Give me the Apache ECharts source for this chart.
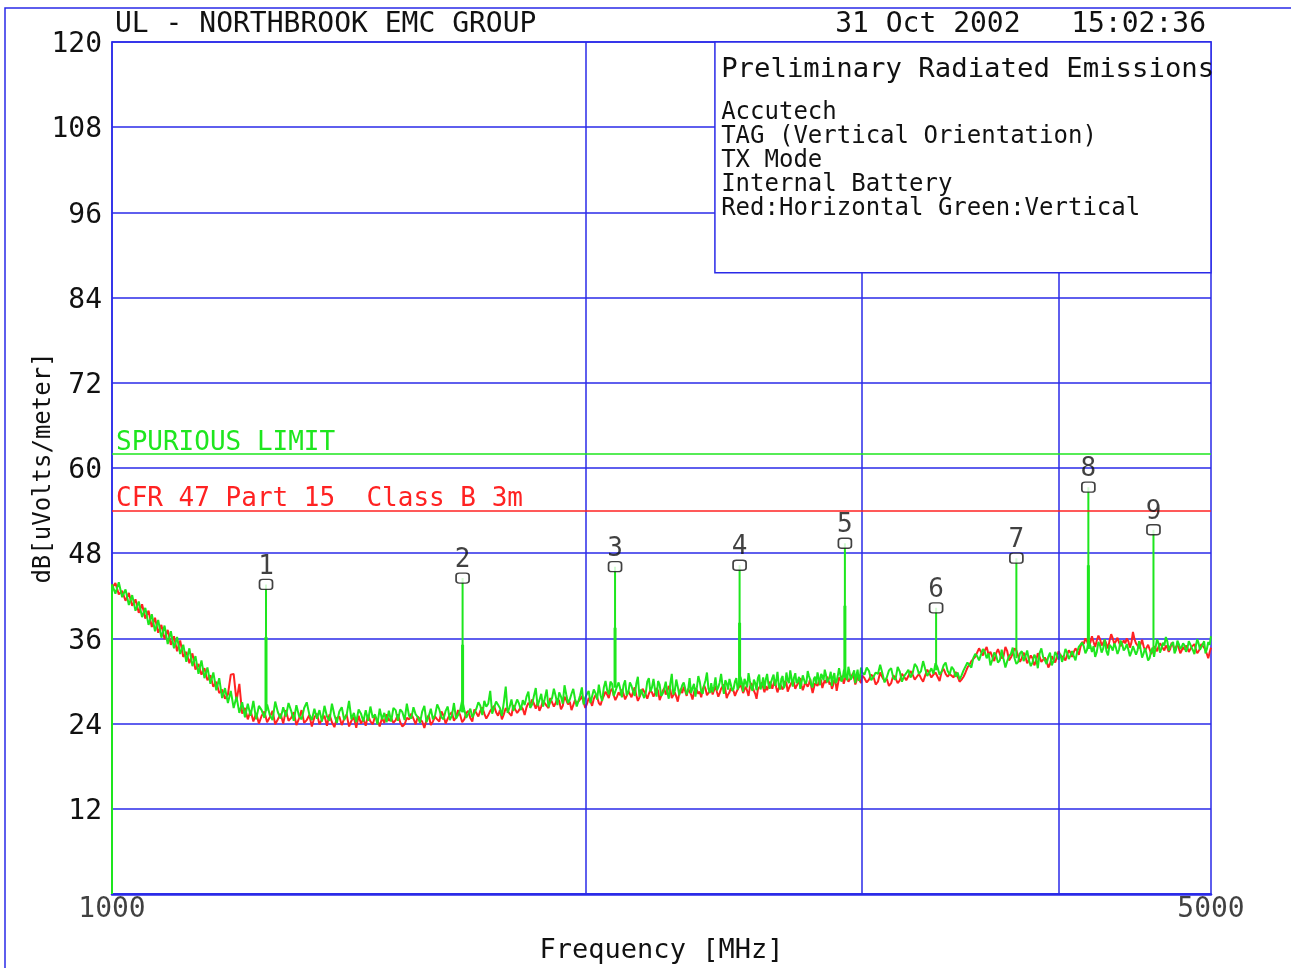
<!DOCTYPE html>
<html>
<head>
<meta charset="utf-8">
<title>Preliminary Radiated Emissions</title>
<script src="https://cdn.jsdelivr.net/npm/echarts/dist/echarts.min.js"></script>
<style>
  html, body { margin: 0; padding: 0; background: #fff; }
  #chart { width: 1291px; height: 968px; }
</style>
</head>
<body>
<div id="chart"></div>
<script>
// ---- Data -------------------------------------------------------------
// Sweep frequencies [MHz]
const freqLow = [
  1000,1005,1010,1015,1020,1025,1030,1035,1040,1045,
  1050,1055,1060,1065,1070,1075,1080,1085,1090,1095,
  1100,1105,1110,1115,1120,1125,1130,1135,1140,1145,
  1150,1155,1160,1165,1170,1175,1180,1185,1190,1195,
  1200,1205,1210,1215,1220,1225,1230,1235,1240,1245,
  1250,1255,1260,1265,1270,1275,1280,1285,1290,1295,
  1300,1305,1310,1315,1320,1325,1330,1335,1340,1345,
  1350,1355,1360,1365,1370,1375,1380,1385,1390,1395,
  1400,1405,1410,1415,1420,1425,1430,1435,1440,1445,
  1450,1455,1460,1465,1470,1475,1480,1485,1490,1495,
  1500
];
const freqMid = [
  1505,1510,1515,1520,1525,1530,1535,1540,1545,1550,1555,1560,1565,1570,1575,1580,1585,1590,1595,1600,
  1605,1610,1615,1620,1625,1630,1635,1640,1645,1650,1655,1660,1665,1670,1675,1680,1685,1690,1695,1700,
  1705,1710,1715,1720,1725,1730,1735,1740,1745,1750,1755,1760,1765,1770,1775,1780,1785,1790,1795,1800,
  1805,1810,1815,1820,1825,1830,1835,1840,1845,1850,1855,1860,1865,1870,1875,1880,1885,1890,1895,1900,
  1905,1910,1915,1920,1925,1930,1935,1940,1945,1950,1955,1960,1965,1970,1975,1980,1985,1990,1995,2000,
  2005,2010,2015,2020,2025,2030,2035,2040,2045,2050,2055,2060,2065,2070,2075,2080,2085,2090,2095,2100,
  2105,2110,2115,2120,2125,2130,2135,2140,2145,2150,2155,2160,2165,2170,2175,2180,2185,2190,2195,2200,
  2205,2210,2215,2220,2225,2230,2235,2240,2245,2250,2255,2260,2265,2270,2275,2280,2285,2290,2295,2300,
  2305,2310,2315,2320,2325,2330,2335,2340,2345,2350,2355,2360,2365,2370,2375,2380,2385,2390,2395,2400,
  2405,2410,2415,2420,2425,2430,2435,2440,2445,2450,2455,2460,2465,2470,2475,2480,2485,2490,2495,2500,
  2505,2510,2515,2520,2525,2530,2535,2540,2545,2550,2555,2560,2565,2570,2575,2580,2585,2590,2595,2600,
  2605,2610,2615,2620,2625,2630,2635,2640,2645,2650,2655,2660,2665,2670,2675,2680,2685,2690,2695,2700,
  2705,2710,2715,2720,2725,2730,2735,2740,2745,2750,2755,2760,2765,2770,2775,2780,2785,2790,2795,2800,
  2805,2810,2815,2820,2825,2830,2835,2840,2845,2850,2855,2860,2865,2870,2875,2880,2885,2890,2895,2900,
  2905,2910,2915,2920,2925,2930,2935,2940,2945,2950,2955,2960,2965,2970,2975,2980,2985,2990,2995,3000
];
const freqHigh = [
  3010,3020,3030,3040,3050,3060,3070,3080,3090,3100,3110,3120,3130,3140,3150,3160,3170,3180,3190,3200,
  3210,3220,3230,3240,3250,3260,3270,3280,3290,3300,3310,3320,3330,3340,3350,3360,3370,3380,3390,3400,
  3410,3420,3430,3440,3450,3460,3470,3480,3490,3500,3510,3520,3530,3540,3550,3560,3570,3580,3590,3600,
  3610,3620,3630,3640,3650,3660,3670,3680,3690,3700,3710,3720,3730,3740,3750,3760,3770,3780,3790,3800,
  3810,3820,3830,3840,3850,3860,3870,3880,3890,3900,3910,3920,3930,3940,3950,3960,3970,3980,3990,4000,
  4010,4020,4030,4040,4050,4060,4070,4080,4090,4100,4110,4120,4130,4140,4150,4160,4170,4180,4190,4200,
  4210,4220,4230,4240,4250,4260,4270,4280,4290,4300,4310,4320,4330,4340,4350,4360,4370,4380,4390,4400,
  4410,4420,4430,4440,4450,4460,4470,4480,4490,4500,4510,4520,4530,4540,4550,4560,4570,4580,4590,4600,
  4610,4620,4630,4640,4650,4660,4670,4680,4690,4700,4710,4720,4730,4740,4750,4760,4770,4780,4790,4800,
  4810,4820,4830,4840,4850,4860,4870,4880,4890,4900,4910,4920,4930,4940,4950,4960,4970,4980,4990,5000
];

// Vertical antenna polarization [dBuV/m] (green)
const verticalLow = [
  43.6,42.3,43.9,41.8,42.9,40.7,42.1,39.9,41.2,39.0,
  40.3,37.9,39.4,37.0,38.6,36.1,37.8,35.2,37.0,34.6,
  36.2,33.8,35.1,32.7,34.6,32.1,33.5,31.0,32.9,30.4,
  31.9,29.6,31.2,28.7,30.4,27.6,29.0,26.9,28.6,26.2,
  27.8,25.5,27.0,24.9,26.8,25.1,27.2,24.6,26.5,25.9,
  24.8,26.7,25.2,24.5,27.1,25.6,24.7,26.3,25.0,26.9,
  25.8,24.4,26.6,25.1,24.6,26.2,27.0,25.3,24.5,26.1,
  24.7,25.9,24.3,26.5,25.0,24.4,26.8,25.2,24.1,25.7,
  26.3,24.5,25.2,27.2,24.6,25.5,24.2,26.0,25.4,24.3,
  25.9,24.4,26.4,24.8,25.3,23.9,26.1,24.6,25.5,24.2,
  25.8
];
const verticalMid = [
  24.3,26.2,25.9,24.4,26.0,25.6,24.5,26.8,25.1,24.7,26.3,25.3,24.9,24.1,25.7,26.5,24.2,25.0,26.1,24.6,
  25.2,26.7,26.0,24.9,24.6,25.8,26.4,24.5,25.1,26.9,24.7,25.2,25.9,27.3,26.0,24.8,25.4,26.1,24.9,25.5,
  26.1,27.0,26.5,25.2,27.2,26.4,26.8,28.6,25.4,25.6,27.1,26.9,26.2,25.1,27.0,29.2,25.5,26.3,27.4,25.8,
  25.7,27.4,26.8,25.9,27.3,26.6,27.8,28.5,26.2,26.7,27.9,29.0,26.5,27.3,28.2,26.4,27.6,28.8,26.3,27.1,
  27.6,28.9,27.9,26.6,28.4,27.8,26.8,29.4,28.1,26.9,27.4,28.2,28.9,27.5,26.4,26.5,28.0,29.1,26.7,27.7,
  28.2,28.6,26.9,27.0,28.8,28.3,27.4,29.5,28.0,27.2,29.1,30.0,28.7,28.1,29.9,29.6,27.9,28.0,29.2,29.8,
  28.9,27.7,29.4,30.1,28.0,28.4,29.8,29.3,28.5,27.9,29.6,30.6,27.8,28.8,29.0,27.6,28.3,29.9,30.4,28.5,
  29.1,30.3,28.7,27.8,30.0,29.5,27.9,28.2,28.9,29.9,28.4,27.5,29.6,31.0,28.1,28.6,30.2,29.2,28.0,27.9,
  29.4,29.8,30.0,28.1,28.7,30.4,28.3,29.0,29.6,27.8,29.1,30.7,29.9,28.5,28.2,29.4,30.1,31.2,29.0,28.3,
  29.7,28.4,29.2,30.5,28.7,29.1,29.8,31.0,29.4,28.2,30.1,29.7,28.8,30.3,29.5,28.6,28.9,29.9,30.4,28.8,
  29.5,30.6,29.9,28.5,30.3,29.8,29.1,31.1,30.0,29.0,28.6,30.2,29.7,28.7,30.4,30.9,28.8,29.4,30.5,28.9,
  30.2,31.0,29.6,28.9,29.8,30.4,30.9,29.3,30.0,31.3,29.4,28.8,30.3,30.7,29.0,29.5,31.2,30.1,29.7,31.5,
  30.4,29.2,30.5,31.1,29.7,30.0,30.6,28.9,29.8,30.8,31.0,29.6,29.9,31.4,30.7,30.2,29.4,29.1,30.3,30.6,
  29.6,31.2,30.4,29.4,31.0,30.7,30.1,31.6,30.9,29.8,29.9,30.5,31.3,29.3,30.6,31.1,29.7,30.0,30.8,31.8,
  31.0,29.9,30.3,31.4,31.7,30.6,30.1,32.0,31.2,30.2,30.5,31.0,31.5,29.7,30.8,31.6,30.0,30.4,31.9,31.2
];
const verticalHigh = [
  30.9,31.9,31.4,30.1,30.6,31.2,31.0,32.3,31.1,29.8,30.5,31.5,31.8,30.4,30.2,32.0,31.3,29.9,30.7,31.1,
  31.6,30.5,31.1,32.4,32.0,31.0,31.4,32.8,31.7,30.7,31.2,31.8,31.0,32.5,31.9,30.9,31.3,32.2,32.6,31.4,
  30.9,32.0,31.6,30.6,31.2,30.2,30.8,31.5,31.7,32.6,32.4,31.9,33.2,33.8,33.5,32.9,33.0,34.5,34.1,33.2,
  33.9,32.2,33.0,34.0,33.6,32.6,32.9,34.4,33.1,31.9,32.8,33.5,33.8,34.7,33.2,32.4,32.7,33.9,34.2,32.8,
  33.5,34.3,32.9,32.1,32.6,33.7,33.2,31.8,33.9,34.6,33.4,32.9,32.4,33.4,34.0,32.2,32.8,34.1,33.6,33.0,
  33.8,32.7,33.4,34.5,34.0,33.1,33.6,34.2,33.5,32.9,34.1,34.8,34.6,35.4,34.9,33.9,34.4,35.6,35.0,34.1,
  34.9,33.4,34.1,35.5,35.0,34.0,34.6,35.9,34.2,33.6,35.1,34.8,34.3,35.3,34.7,33.8,34.4,35.7,35.2,34.3,
  34.6,35.2,34.4,33.5,34.1,34.9,35.0,33.7,34.3,35.6,34.5,33.3,33.9,34.6,33.8,32.9,33.2,34.2,34.7,33.4,
  34.7,35.9,35.3,34.0,34.6,35.4,35.0,36.2,35.6,34.3,34.9,35.1,35.5,33.9,34.4,35.7,35.2,34.5,34.8,35.3,
  35.0,34.1,34.6,35.6,35.2,34.7,34.3,33.8,34.9,35.9,35.3,34.4,34.8,35.2,35.6,33.9,34.5,35.5,35.1,36.3
];

// Horizontal antenna polarization [dBuV/m] (red)
const horizontalLow = [
  43.1,43.8,42.2,42.7,41.3,42.4,40.6,41.5,39.6,40.8,
  38.8,39.9,37.6,38.9,36.8,37.9,35.9,37.2,35.1,36.3,
  34.2,35.7,33.4,34.1,32.5,33.9,31.6,32.4,30.9,31.8,
  30.1,30.8,29.2,29.9,28.3,28.8,27.5,28.1,30.9,31.0,
  27.2,29.6,25.4,26.2,24.6,25.8,24.3,25.5,24.0,25.1,
  25.7,24.2,24.9,25.8,23.9,24.6,25.4,24.0,25.9,24.4,
  24.8,25.6,23.8,24.7,25.9,24.1,24.5,25.2,23.6,24.9,
  25.4,23.9,24.6,25.1,23.7,25.3,24.2,23.5,24.8,25.0,
  23.8,24.7,25.3,23.6,24.4,24.9,23.4,25.1,24.0,24.6,
  23.7,25.2,24.3,23.9,25.0,24.5,23.6,24.8,24.1,25.3,
  24.4
];
const horizontalMid = [
  24.8,24.1,24.5,25.3,24.2,23.6,23.9,24.8,24.6,25.4,24.7,23.9,25.0,24.6,24.3,23.4,24.5,25.2,23.8,24.3,
  25.0,24.6,24.3,25.7,25.1,24.0,24.7,25.3,25.6,24.4,24.9,25.9,25.2,24.2,24.6,25.5,25.8,24.8,24.3,26.0,
  25.5,25.0,25.8,26.3,25.4,24.7,25.2,25.8,25.9,26.5,25.6,25.1,25.9,24.6,25.3,26.2,26.0,25.4,25.1,26.6,
  26.0,25.5,25.9,26.4,26.1,25.2,26.3,26.9,26.6,27.4,26.8,26.1,27.0,25.8,26.4,27.2,27.1,26.5,26.2,27.6,
  27.0,26.4,26.9,27.5,27.2,26.0,26.5,27.8,27.3,26.7,27.1,25.9,26.6,27.3,26.8,26.6,27.4,27.9,27.0,26.2,
  26.8,27.6,27.2,26.5,27.5,28.0,27.7,26.9,26.6,27.4,27.9,28.5,28.1,27.6,28.6,28.9,28.0,27.3,27.8,28.4,
  28.0,28.8,28.2,27.4,27.9,28.6,28.4,27.7,28.5,29.1,28.0,27.2,27.7,28.3,28.9,29.0,28.1,27.5,28.2,28.7,
  28.4,27.8,28.3,29.0,28.6,27.3,27.9,28.6,29.0,28.1,28.5,29.3,28.8,27.6,28.0,28.4,27.8,27.1,28.3,28.9,
  28.3,29.2,28.6,27.9,28.9,28.5,28.1,27.4,28.4,29.0,28.7,28.2,28.5,27.7,28.8,29.4,28.9,28.0,28.2,28.6,
  29.0,28.1,28.7,29.3,28.5,27.8,28.3,28.9,28.8,29.5,28.9,27.6,28.1,28.4,29.0,29.1,28.6,27.9,28.4,28.8,
  28.9,29.5,29.0,28.3,28.8,29.2,28.6,27.9,29.1,29.7,29.3,28.6,28.2,27.5,28.8,29.0,29.4,29.8,29.1,28.4,
  29.3,28.7,29.2,29.9,29.5,28.9,29.6,30.2,29.1,28.4,29.0,29.6,29.4,28.8,29.3,30.0,29.7,28.5,29.0,29.4,
  29.5,30.1,29.7,28.9,29.3,29.6,29.9,30.4,29.4,28.7,29.2,29.9,29.8,29.2,29.6,30.3,29.1,28.3,29.0,29.7,
  29.9,29.3,29.8,30.4,30.0,29.0,29.6,30.1,29.7,30.6,30.2,29.5,29.8,28.9,29.4,30.2,29.9,28.6,29.5,30.5,
  30.1,30.7,30.4,29.6,30.2,30.9,30.5,29.9,29.8,30.4,30.6,31.1,30.3,29.5,30.0,30.6,30.9,30.0,29.7,30.8
];
const horizontalHigh = [
  30.4,29.8,30.2,30.9,30.6,29.5,29.9,31.2,30.5,30.0,30.3,29.3,29.7,30.8,30.4,29.7,30.1,31.0,30.6,30.1,
  30.7,31.4,30.9,30.2,30.6,31.0,30.4,29.9,30.8,31.6,31.1,30.5,30.9,31.2,30.6,30.0,31.3,31.7,31.0,30.6,
  31.0,30.8,30.5,31.3,30.6,29.9,30.2,30.6,31.2,31.9,32.3,32.8,33.0,33.4,34.0,34.6,34.1,33.6,34.3,34.8,
  33.7,34.1,33.4,32.8,33.9,34.5,33.8,33.2,33.5,34.8,34.2,32.9,33.3,33.9,34.6,34.3,33.5,32.7,33.2,34.0,
  33.4,32.5,33.0,33.6,33.2,32.2,32.8,33.9,33.4,32.7,32.5,33.3,32.9,31.9,32.4,33.5,33.0,32.6,33.4,34.2,
  33.6,33.8,33.3,32.9,33.7,34.3,34.0,33.4,34.1,34.6,34.2,33.7,34.8,35.5,35.2,36.0,35.6,34.9,35.4,36.3,
  35.5,34.8,35.7,36.4,35.9,35.0,35.4,35.8,35.2,34.6,35.7,36.6,36.0,35.2,35.6,36.1,35.4,34.9,35.3,35.7,
  35.3,36.0,35.6,34.7,35.4,36.9,35.9,35.3,35.0,34.6,35.2,35.8,34.9,34.3,34.7,35.1,34.5,33.8,34.2,34.9,
  34.6,34.2,34.8,35.3,35.0,34.6,34.3,35.0,34.7,34.1,34.5,35.4,35.0,34.4,34.8,35.1,34.6,33.9,34.3,34.8,
  34.4,35.0,34.7,34.1,34.3,34.8,34.9,35.2,34.5,33.9,34.2,34.6,35.2,35.0,34.7,34.3,33.8,33.2,34.0,34.7
];

// Harmonic emissions picked by the markers
const markerNames      = ['1','2','3','4','5','6','7','8','9'];
const harmonicFreqs    = [1253, 1671, 2089, 2507, 2925, 3343, 3760, 4178, 4596];
const harmonicPeaks    = [43.6, 44.5, 46.1, 46.3, 49.4, 40.3, 47.3, 57.3, 51.3];
const harmonicFloors   = [25.8, 25.6, 29.1, 29.4, 30.5, 31.5, 33.2, 34.5, 34.0];
const nearCarrierLevel = [36.2, 35.1, 37.5, 38.2, 40.6, null, null, 46.3, null];

// First sweep point of the vertical trace: [level at start, level after settling]
const sweepStartLevels = [0, 43.6];

// Limits
const limitNames  = ['SPURIOUS LIMIT', 'CFR 47 Part 15  Class B 3m'];
const limitLevels = [62, 54];

// Axes
const yTickValues   = [0, 12, 24, 36, 48, 60, 72, 84, 96, 108, 120];
const xTickLabels   = [1000, 5000];
const xGridFreqs    = [2000, 3000, 4000];

// Header and note text
const headerTitle = 'UL - NORTHBROOK EMC GROUP';
const headerStamp = '31 Oct 2002   15:02:36';
const noteTitle   = 'Preliminary Radiated Emissions';
const noteLines   = ['Accutech', 'TAG (Vertical Orientation)', 'TX Mode',
                     'Internal Battery', 'Red:Horizontal Green:Vertical'];

// ---- Styling ----------------------------------------------------------
const FONT  = '"DejaVu Sans Mono", "Liberation Mono", monospace';
const BLUE  = '#2a2ae8';
const GREEN = '#1ee61e';
const RED   = '#ff2222';
const INK   = '#111111';

// Note box extent in data units (frequency / level)
const noteBox = { f0: 2418, f1: 5000, top: 120, bottom: 87.5 };

// ---- Build series data -----------------------------------------------
const freqs      = freqLow.concat(freqMid, freqHigh);
const vertical   = verticalLow.concat(verticalMid, verticalHigh);
const horizontal = horizontalLow.concat(horizontalMid, horizontalHigh);

const verticalData   = freqs.map((f, i) => [f, vertical[i]]);
const horizontalData = freqs.map((f, i) => [f, horizontal[i]]);

const spikeData = [];
harmonicFreqs.forEach((f, i) => {
  spikeData.push([f, harmonicFloors[i]], [f, harmonicPeaks[i]], [f, harmonicFloors[i]], [f, '-']);
});
spikeData.push([freqs[0], sweepStartLevels[0]], [freqs[0], sweepStartLevels[1]]);

const nearData = [];
harmonicFreqs.forEach((f, i) => {
  if (nearCarrierLevel[i] !== null) {
    nearData.push([f, harmonicFloors[i]], [f, nearCarrierLevel[i]], [f, '-']);
  }
});

const markerData = harmonicFreqs.map((f, i) => ({ value: [f, harmonicPeaks[i]], name: markerNames[i] }));

const noteText = '{h|' + noteTitle + '}\n{g| }\n' + noteLines.map(s => '{t|' + s + '}').join('\n');

// ---- Chart ------------------------------------------------------------
const chart = echarts.init(document.getElementById('chart'), null, { renderer: 'canvas' });

chart.setOption({
  animation: false,
  backgroundColor: '#fff',
  title: [
    { text: headerTitle, left: 110, top: 6,
      textStyle: { fontFamily: FONT, fontSize: 28, fontWeight: 'normal', color: INK } },
    { text: headerStamp, right: 80, top: 6,
      textStyle: { fontFamily: FONT, fontSize: 28, fontWeight: 'normal', color: INK } }
  ],
  graphic: [
    { type: 'rect', shape: { x: 5, y: 8, width: 1400, height: 1100 },
      style: { fill: 'none', stroke: BLUE, lineWidth: 1.5 }, silent: true, z: 0 }
  ],
  grid: {
    left: 112, right: 80, top: 42, bottom: 74,
    outerBoundsMode: 'none', containLabel: false,
    show: true, borderColor: BLUE, borderWidth: 1.5, backgroundColor: 'transparent'
  },
  xAxis: {
    type: 'log', logBase: 10, min: 1000, max: 5000,
    name: 'Frequency [MHz]', nameLocation: 'middle', nameGap: 43,
    nameTextStyle: { fontFamily: FONT, fontSize: 27, color: INK },
    axisLine: { show: true, lineStyle: { color: BLUE, width: 2.5 } },
    axisTick: { show: false },
    axisLabel: { show: false },
    splitLine: { show: false }
  },
  yAxis: {
    type: 'value', min: 0, max: 120, interval: 12,
    name: 'dB[uVolts/meter]', nameLocation: 'middle', nameGap: 56,
    nameMoveOverlap: false,
    nameTextStyle: { fontFamily: FONT, fontSize: 24, color: INK },
    axisLine: { show: true, lineStyle: { color: BLUE, width: 1.5 } },
    axisTick: { show: false },
    axisLabel: {
      fontFamily: FONT, fontSize: 28, color: INK, margin: 10,
      formatter: v => (yTickValues.indexOf(v) > 0 ? '{n|' + v + '}' : ''),
      rich: {
        n: { fontFamily: FONT, fontSize: 28, color: INK, padding: [6, 0, 0, 0] }
      }
    },
    splitLine: { show: true, lineStyle: { color: BLUE, width: 1.5 } }
  },
  series: [
    { // vertical grid lines
      name: 'freq-grid', type: 'line', data: [], z: 1, silent: true,
      markLine: {
        silent: true, symbol: 'none', animation: false,
        label: { show: false },
        lineStyle: { color: BLUE, width: 1.5, type: 'solid' },
        data: xGridFreqs.map(f => ({ xAxis: f }))
      }
    },
    { // note box (covers the grid in the upper right)
      name: 'note', type: 'line', data: [], z: 2, silent: true,
      markArea: {
        silent: true, z: 8,
        itemStyle: { color: '#fff', borderColor: BLUE, borderWidth: 1.5, opacity: 1 },
        label: {
          show: true, position: 'insideTopLeft', distance: 0,
          padding: [14, 0, 0, 7],
          fontFamily: FONT, color: INK,
          formatter: noteText,
          rich: {
            h: { fontFamily: FONT, fontSize: 27.3, lineHeight: 30, color: INK },
            g: { fontFamily: FONT, fontSize: 10, lineHeight: 16, color: INK },
            t: { fontFamily: FONT, fontSize: 24, lineHeight: 24, color: INK }
          }
        },
        data: [[{ coord: [noteBox.f0, noteBox.top] }, { coord: [noteBox.f1, noteBox.bottom] }]]
      }
    },
    {
      name: 'Horizontal', type: 'line', data: horizontalData, z: 3,
      showSymbol: false, symbol: 'none',
      lineStyle: { color: RED, width: 2 }
    },
    {
      name: 'Vertical', type: 'line', data: verticalData, z: 4,
      showSymbol: false, symbol: 'none',
      lineStyle: { color: GREEN, width: 2 }
    },
    {
      name: 'harmonics', type: 'line', data: spikeData, z: 4,
      showSymbol: false, symbol: 'none', connectNulls: false,
      lineStyle: { color: GREEN, width: 2 }
    },
    {
      name: 'near-carrier', type: 'line', data: nearData, z: 4,
      showSymbol: false, symbol: 'none', connectNulls: false,
      lineStyle: { color: GREEN, width: 3 }
    },
    { // limit lines
      name: 'limits', type: 'line', data: [], z: 5, silent: true,
      markLine: {
        silent: true, symbol: 'none', animation: false,
        data: limitLevels.map((lv, i) => {
          const c = i === 0 ? GREEN : RED;
          return {
            yAxis: lv,
            lineStyle: { color: c, width: 1.5, type: 'solid' },
            label: {
              show: true, position: 'insideStartTop', formatter: limitNames[i],
              color: c, fontFamily: FONT, fontSize: 26, distance: [4, -2]
            }
          };
        })
      }
    },
    {
      name: 'markers', type: 'scatter', data: markerData, z: 9,
      symbol: 'roundRect', symbolSize: [13, 10],
      itemStyle: { color: '#fff', borderColor: INK, borderWidth: 1.5 },
      label: {
        show: true, position: 'top', distance: 0,
        formatter: p => p.name,
        fontFamily: FONT, fontSize: 26, lineHeight: 24, color: INK
      }
    },
    {
      name: 'x-labels', type: 'scatter', z: 9, silent: true,
      data: xTickLabels.map(f => [f, 0]),
      symbolSize: 0,
      label: {
        show: true, position: 'bottom', distance: 2,
        formatter: p => String(p.value[0]),
        fontFamily: FONT, fontSize: 28, color: INK
      }
    }
  ]
});
</script>
</body>
</html>
